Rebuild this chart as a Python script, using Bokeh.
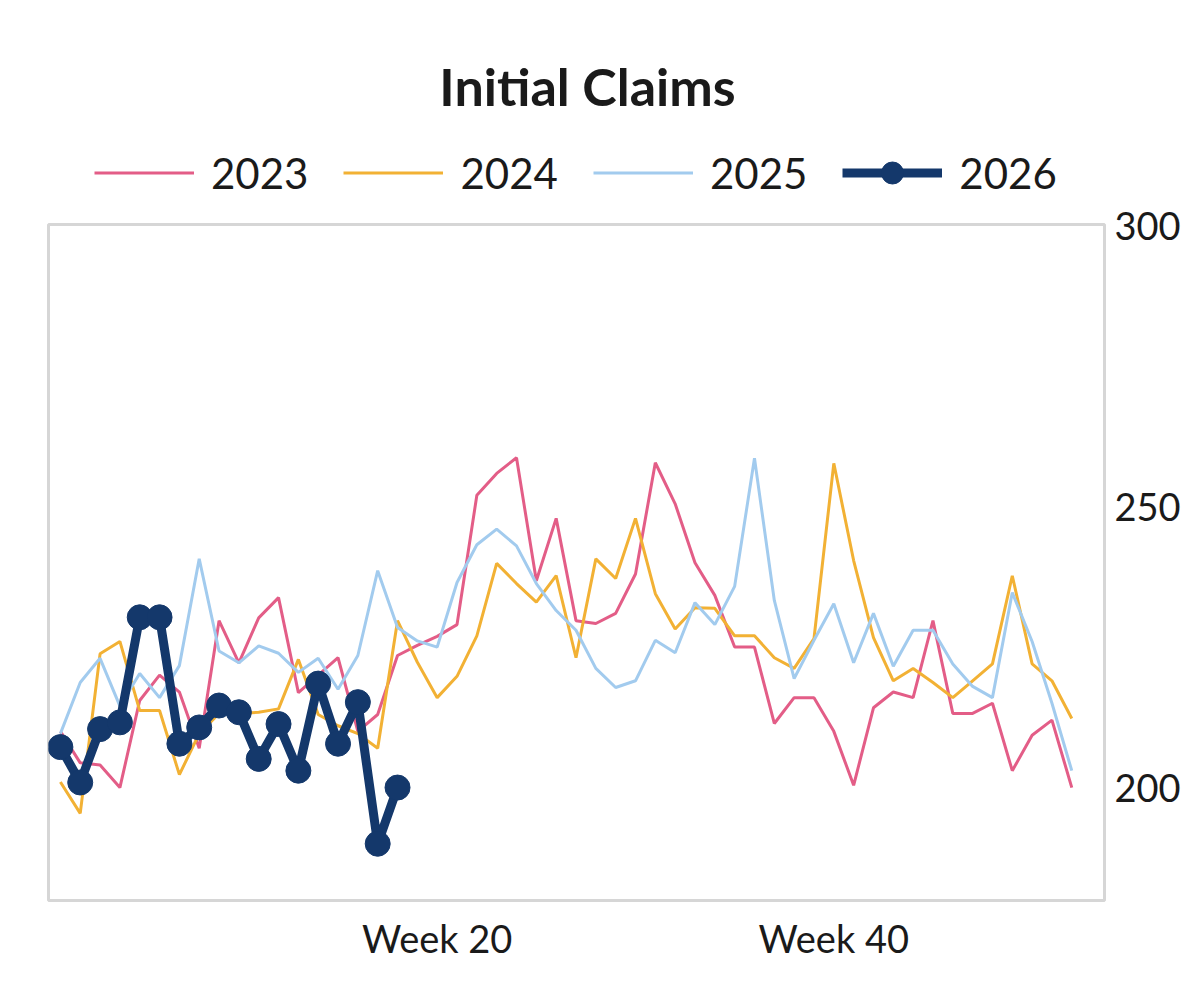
from bokeh.plotting import figure
from bokeh.models import Range1d, FixedTicker, Legend, LegendItem, Label
from bokeh.layouts import column
from bokeh.embed import file_html
from bokeh.resources import INLINE

weeks = list(range(1, 53))
weeks_2026 = list(range(1, 19))

claims_2023 = [210, 204.4, 204, 200, 215.5, 220, 217, 207, 229.7, 222.2,
               230.2, 233.8, 216.9, 220, 223.1, 210, 213, 223.5, 225.3, 226.9,
               229, 252, 255.9, 258.7, 236.8, 247.9, 229.7, 229.2, 231, 238,
               257.8, 250.5, 240, 234.2, 225, 225, 211.4, 216, 216, 210,
               200.4, 214.2, 217, 216, 229.7, 213.2, 213.2, 215, 203, 209.3,
               212, 200]
claims_2024 = [201, 195.4, 223.8, 226, 213.7, 213.7, 202.3, 209.6, 213.2, 213.2,
               213.4, 214, 222.8, 213, 211, 209.6, 207, 229.7, 222.3, 216,
               219.8, 227, 239.9, 236.3, 233, 237.7, 223.1, 240.7, 237.2, 247.9,
               234.5, 228.2, 232, 231.9, 227, 227, 223.1, 221.2, 226.5, 257.7,
               240.4, 226.7, 219, 221.2, 218.7, 216, 219, 222, 237.7, 222,
               219, 212.3]
claims_2025 = [209.6, 218.7, 223, 214.5, 220.3, 216, 221.7, 240.7, 224.3, 222.2,
               225.2, 223.9, 220.5, 223, 217.5, 223.5, 238.6, 228.5, 226.1, 225,
               236.5, 243.2, 246, 243, 236.3, 231.5, 228, 221.2, 217.8, 219,
               226.2, 224, 232.9, 229, 235.8, 258.6, 233.3, 219.4, 226.2, 232.7,
               222.2, 231, 221.6, 228, 228, 222, 218, 216, 234.7, 226,
               215, 203]
claims_2026 = [207.2, 200.9, 210.4, 211.6, 230.3, 230.3, 207.8, 210.7, 214.6, 213.4,
               205.1, 211.3, 203, 218.5, 207.8, 215.2, 190, 200]

series_labels = ["2023", "2024", "2025", "2026"]
x_ticks = [20, 40]
x_tick_labels = ["Week 20", "Week 40"]
y_ticks = [200, 250, 300]
title_text = "Initial Claims"

FONT = "Lato"
COLORS = ["#e35d87", "#f2b134", "#a2cbee", "#14386b"]
TEXT = "#1a1a1a"

# ---- header: title + legend (same series, drawn outside its visible range) ----
head = figure(width=1200, height=200, output_backend="svg", toolbar_location=None,
              x_range=Range1d(0, 1), y_range=Range1d(0, 1),
              x_axis_type=None, y_axis_type=None,
              min_border_left=0, min_border_right=0, min_border_top=0, min_border_bottom=0)
head.grid.visible = False
head.outline_line_color = None

head.add_layout(Label(x=539, y=115, x_units="screen", y_units="screen",
                      text=title_text, text_align="center", text_baseline="alphabetic",
                      text_font=FONT, text_font_size="52px", text_font_style="bold",
                      text_color=TEXT))

h23 = head.line(weeks, claims_2023, line_color=COLORS[0], line_width=3)
h24 = head.line(weeks, claims_2024, line_color=COLORS[1], line_width=3)
h25 = head.line(weeks, claims_2025, line_color=COLORS[2], line_width=3)
h26l = head.line(weeks_2026, claims_2026, line_color=COLORS[3], line_width=9)
h26m = head.scatter(weeks_2026, claims_2026, marker="circle", size=25,
                    fill_color=COLORS[3], line_color=COLORS[3])

legend = Legend(items=[
    LegendItem(label=series_labels[0], renderers=[h23]),
    LegendItem(label=series_labels[1], renderers=[h24]),
    LegendItem(label=series_labels[2], renderers=[h25]),
    LegendItem(label=series_labels[3], renderers=[h26l, h26m]),
], orientation="horizontal", location=(46, 0),
    glyph_width=100, glyph_height=55, label_standoff=17, spacing=35,
    padding=0, margin=0, border_line_color=None, background_fill_alpha=0,
    label_text_font=FONT, label_text_font_size="42px", label_text_color=TEXT)
head.add_layout(legend, "center")

# ---- main chart ----
p = figure(width=1200, height=793, output_backend="svg", toolbar_location=None,
           x_range=Range1d(0.4, 53.65), y_range=Range1d(179.9, 300.2),
           x_axis_location="below", y_axis_location="right",
           min_border_left=48, min_border_right=96, min_border_top=24,
           min_border_bottom=93)

p.grid.visible = False
p.outline_line_color = "#d6d6d6"
p.outline_line_width = 3

p.line(weeks, claims_2023, line_color=COLORS[0], line_width=3)
p.line(weeks, claims_2024, line_color=COLORS[1], line_width=3)
p.line(weeks, claims_2025, line_color=COLORS[2], line_width=3)
p.line(weeks_2026, claims_2026, line_color=COLORS[3], line_width=9)
p.scatter(weeks_2026, claims_2026, marker="circle", size=25,
          fill_color=COLORS[3], line_color=COLORS[3])

for ax in p.xaxis:
    ax.ticker = FixedTicker(ticks=x_ticks)
    ax.major_label_overrides = {t: l for t, l in zip(x_ticks, x_tick_labels)}
for ax in p.yaxis:
    ax.ticker = FixedTicker(ticks=y_ticks)
for ax in list(p.xaxis) + list(p.yaxis):
    ax.axis_line_color = None
    ax.major_tick_line_color = None
    ax.minor_tick_line_color = None
    ax.major_label_text_font = FONT
    ax.major_label_text_font_size = "38px"
    ax.major_label_text_color = TEXT
p.xaxis.major_label_standoff = 8
p.yaxis.major_label_standoff = 4

layout = column(head, p, spacing=0)

open("out.html", "w").write(file_html(layout, INLINE))
